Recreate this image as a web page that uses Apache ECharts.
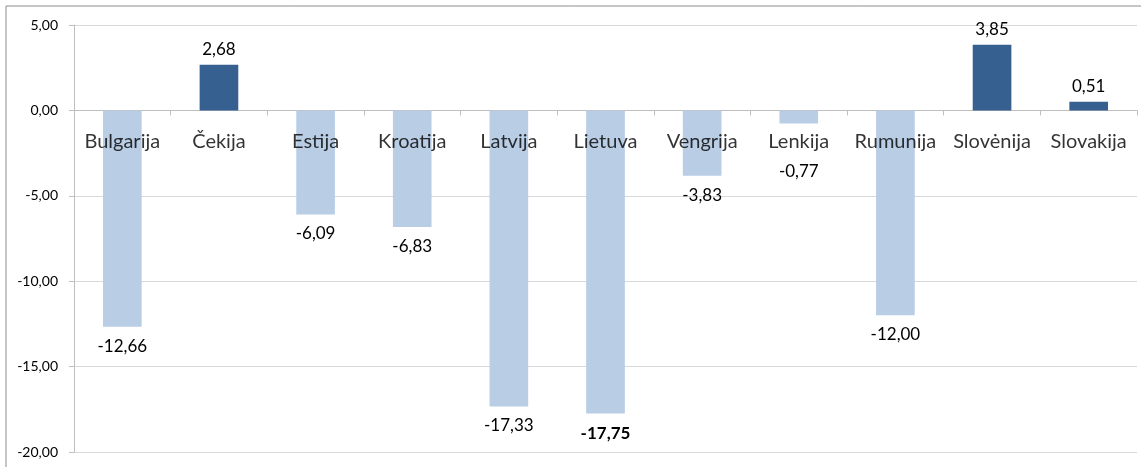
<!DOCTYPE html>
<html>
<head>
<meta charset="utf-8">
<script src="https://cdn.jsdelivr.net/npm/echarts@6/dist/echarts.min.js"></script>
<style>
html,body{margin:0;padding:0;background:#fff;}
#chart{width:1141px;height:467px;}
</style>
</head>
<body>
<div id="chart"></div>
<script>
const categories = ['Bulgarija','Čekija','Estija','Kroatija','Latvija','Lietuva','Vengrija','Lenkija','Rumunija','Slovėnija','Slovakija'];
const values = [-12.66, 2.68, -6.09, -6.83, -17.33, -17.75, -3.83, -0.77, -12.00, 3.85, 0.51];
const yTicks = [5, 0, -5, -10, -15, -20];

const FONT = 'Lato, "Open Sans", sans-serif';
const fmt = v => v.toFixed(2).replace('.', ',');

const data = values.map((v, i) => {
  const item = {
    value: v,
    itemStyle: { color: v >= 0 ? '#36608F' : '#B9CDE5' },
    label: { position: v >= 0 ? 'top' : 'bottom', distance: v >= 0 ? 7 : 11 }
  };
  if (categories[i] === 'Lietuva') item.label.fontWeight = 'bold';
  if (categories[i] === 'Lenkija') item.label.offset = [0, 28];
  return item;
});

const chart = echarts.init(document.getElementById('chart'));
chart.setOption({
  animation: false,
  backgroundColor: '#fff',
  grid: { left: 74, right: 4, top: 25, bottom: 15, containLabel: false, outerBoundsMode: 'none' },
  graphic: [
    { type: 'line', shape: { x1: 6, y1: 6, x2: 1141, y2: 6 }, style: { stroke: '#8c8c8c', lineWidth: 1 } },
    { type: 'line', shape: { x1: 6, y1: 6, x2: 6, y2: 467 }, style: { stroke: '#8c8c8c', lineWidth: 1 } }
  ],
  xAxis: {
    type: 'category',
    data: categories,
    axisLine: { onZero: true, lineStyle: { color: '#bfbfbf' } },
    axisTick: { show: true, length: 5, inside: false, lineStyle: { color: '#bfbfbf' } },
    axisLabel: { show: false }
  },
  yAxis: {
    type: 'value',
    min: -20, max: 5, interval: 5,
    axisLine: { show: true, lineStyle: { color: '#bfbfbf' } },
    axisTick: { show: true, length: 5, lineStyle: { color: '#bfbfbf' } },
    splitLine: { lineStyle: { color: '#d9d9d9' } },
    axisLabel: { fontSize: 14, color: '#000', fontFamily: FONT, margin: 16, formatter: v => fmt(v) }
  },
  series: [{
    type: 'bar',
    data: data,
    barWidth: '40%',
    z: 2,
    label: {
      show: true,
      fontSize: 17,
      color: '#000',
      fontFamily: FONT,
      formatter: p => fmt(p.value)
    }
  }, {
    type: 'scatter',
    data: categories.map(() => 0),
    symbolSize: 0,
    z: 5,
    silent: true,
    label: {
      show: true,
      position: 'bottom',
      distance: 21,
      fontSize: 20,
      color: '#000',
      fontFamily: FONT,
      formatter: p => categories[p.dataIndex]
    }
  }]
});
</script>
</body>
</html>
